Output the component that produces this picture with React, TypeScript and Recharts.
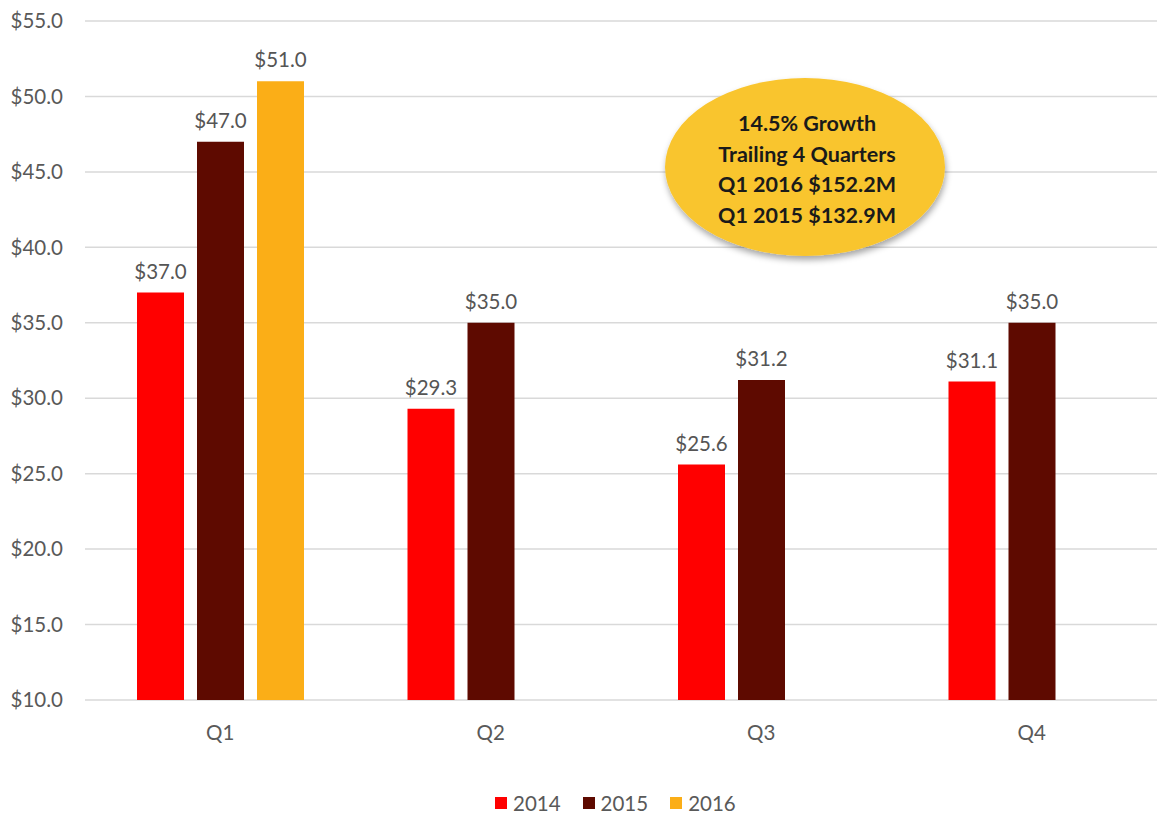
import React from 'react';
import { BarChart, Bar, XAxis, YAxis, CartesianGrid, LabelList, Legend } from 'recharts';

const quarters = ['Q1', 'Q2', 'Q3', 'Q4'];
const values2014 = [37.0, 29.3, 25.6, 31.1];
const values2015 = [47.0, 35.0, 31.2, 35.0];
const values2016: (number | null)[] = [51.0, null, null, null];
const seriesNames = ['2014', '2015', '2016'];
const seriesColors = ['#FF0000', '#5E0A00', '#FBAE17'];
const yTicks = [10, 15, 20, 25, 30, 35, 40, 45, 50, 55];
const calloutLines = ['14.5% Growth', 'Trailing 4 Quarters', 'Q1 2016 $152.2M', 'Q1 2015 $132.9M'];

const data = quarters.map((q, i) => ({
  q,
  '2014': values2014[i],
  '2015': values2015[i],
  '2016': values2016[i],
}));

const FONT = 'Lato, "Open Sans", sans-serif';

const fmt = (v: any) => (v == null || isNaN(Number(v)) ? '' : `$${Number(v).toFixed(1)}`);

const renderLegend = () => (
  <div
    style={{
      display: 'flex',
      justifyContent: 'flex-start',
      alignItems: 'center',
      height: 26,
      paddingLeft: 495,
      fontFamily: FONT,
      fontSize: 20.5,
      color: '#595959',
    }}
  >
    {seriesNames.map((name, i) => (
      <div key={name} style={{ display: 'flex', alignItems: 'center', marginRight: 22 }}>
        <span style={{ display: 'inline-block', width: 12, height: 12, background: seriesColors[i], marginRight: 6 }} />
        <span>{name}</span>
      </div>
    ))}
  </div>
);

export default function App() {
  return (
    <div
      style={{
        position: 'absolute',
        left: 0,
        top: 0,
        width: 1157,
        height: 821,
        overflow: 'hidden',
        background: '#fff',
      }}
    >
      <BarChart
        width={1171}
        height={821}
        data={data}
        margin={{ top: 21, right: 4, bottom: 5, left: 0 }}
        barSize={47}
        barGap={13}
      >
        <CartesianGrid vertical={false} stroke="#D9D9D9" strokeWidth={1.5} />
        <XAxis
          dataKey="q"
          height={90}
          tickLine={false}
          axisLine={false}
          tickSize={0}
          tickMargin={25}
          tick={{ fontFamily: FONT, fontSize: 20.5, fill: '#595959' }}
        />
        <YAxis
          width={85}
          domain={[10, 55]}
          ticks={yTicks}
          allowDataOverflow
          tickFormatter={fmt}
          tickLine={false}
          axisLine={false}
          tickSize={0}
          tickMargin={22}
          tick={{ fontFamily: FONT, fontSize: 20.5, fill: '#595959' }}
        />
        <Legend verticalAlign="bottom" content={renderLegend} wrapperStyle={{ left: 0, width: 1171 }} />
        {seriesNames.map((name, i) => (
          <Bar key={name} dataKey={name} fill={seriesColors[i]} isAnimationActive={false}>
            <LabelList
              dataKey={name}
              position="top"
              offset={14}
              formatter={fmt}
              style={{ fontFamily: FONT, fontSize: 20.5, fill: '#555555' }}
            />
          </Bar>
        ))}
      </BarChart>
      <svg
        width={320}
        height={220}
        style={{ position: 'absolute', left: 645, top: 60, pointerEvents: 'none' }}
      >
        <defs>
          <filter id="shadow" x="-20%" y="-20%" width="140%" height="150%">
            <feDropShadow dx="1" dy="4" stdDeviation="3" floodColor="#000" floodOpacity="0.35" />
          </filter>
        </defs>
        <ellipse cx={160} cy={107} rx={140} ry={89} fill="#F9C52F" filter="url(#shadow)" />
        {calloutLines.map((line, i) => (
          <text
            key={i}
            x={162}
            y={63 + i * 30.5}
            textAnchor="middle"
            dominantBaseline="central"
            style={{ fontFamily: FONT, fontSize: 21.5, fontWeight: 700, fill: '#1A1A1A' }}
          >
            {line}
          </text>
        ))}
      </svg>
    </div>
  );
}
